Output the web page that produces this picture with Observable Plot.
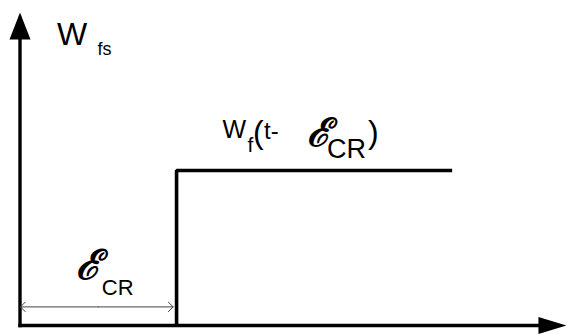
<!DOCTYPE html>
<html><head><meta charset="utf-8">
<script src="https://cdn.jsdelivr.net/npm/d3@7"></script>
<script src="https://cdn.jsdelivr.net/npm/@observablehq/plot@0.6"></script>
<style>html,body{margin:0;padding:0;background:#fff} svg{display:block}</style>
</head><body><div id="chart"></div>
<script>
// ---- data ----
const epsilonCR = 1;            // delay ε_CR (t units)
const stepLevel = 1;            // W_f level after the step
const stepT = [epsilonCR, epsilonCR, 2.76];
const stepW = [0, stepLevel, stepLevel];
const tAxis = [0, 3.49];        // t-axis extent (arrow tip)
const wAxis = [0, 2.02];        // W-axis extent (arrow tip)
const yLabel = ["W", "fs"];
const stepLabel = ["W", "f", "(", "t-", "ℰ", "CR", ")"];
const delayLabel = ["ℰ", "CR"];

// filled arrowheads (tip at the data point)
const upHead = {draw(c){ c.moveTo(0,0); c.lineTo(10.5,27); c.lineTo(-10.5,27); c.closePath(); }};
const rightHead = {draw(c){ c.moveTo(0,0); c.lineTo(-28,-8.5); c.lineTo(-28,8.5); c.closePath(); }};

const sans = "'Liberation Sans', Arial, Helvetica, sans-serif";
const script = "'DejaVu Serif', serif";

function labels(index, {x, y}) {
  const g = d3.create("svg:g").attr("text-anchor", "start");
  const put = (t, px, py, size, fam, extra = {}) => {
    const el = g.append("text").attr("x", px).attr("y", py).attr("text-anchor", "start")
      .attr("font-size", size).attr("font-family", fam).attr("fill", "black").text(t);
    for (const k in extra) el.attr(k, extra[k]);
  };
  const scr = {"font-style": "italic", "font-weight": "bold"};
  // W_fs next to the vertical axis
  const ax = x(0), ay = y(wAxis[1]);
  put(yLabel[0], ax + 37.5, ay + 33, 32, sans);
  put(yLabel[1], ax + 78, ay + 43, 18, sans);
  // W_f(t- ε_CR) above the step
  const sx = x(epsilonCR), sy = y(stepLevel);
  put(stepLabel[0], sx + 46.5, sy - 32, 25, sans);
  put(stepLabel[1], sx + 71.5, sy - 18, 21, sans);
  put(stepLabel[2], sx + 77, sy - 27, 32, sans);
  put(stepLabel[3], sx + 88, sy - 31, 24, sans);
  put(stepLabel[4], sx + 131, sy - 24, 39, script, scr);
  put(stepLabel[5], sx + 151, sy - 12, 27, sans);
  put(stepLabel[6], sx + 192, sy - 27, 32, sans);
  // ε_CR above the delay arrow
  const dx = x(epsilonCR / 2), dy = y(0.12);
  put(delayLabel[0], dx - 22, dy - 27, 41, script, scr);
  put(delayLabel[1], dx + 4, dy - 11, 22, sans);
  return g.node();
}

const axesLinks = [
  {x1: tAxis[0], y1: 0, x2: tAxis[1] - 0.1, y2: 0},
  {x1: 0, y1: wAxis[0], x2: 0, y2: wAxis[1] - 0.1}
];

const chart = Plot.plot({
  width: 569, height: 334, margin: 0,
  x: {domain: [0, 3.5], range: [19.5, 567.5], axis: null},
  y: {domain: [0, 2], range: [325, 15], axis: null},
  style: {background: "white"},
  marks: [
    Plot.link(axesLinks, {x1: "x1", y1: "y1", x2: "x2", y2: "y2", stroke: "black", strokeWidth: 3.4, strokeLinecap: "square"}),
    Plot.dot([{t: tAxis[1], w: 0}], {x: "t", y: "w", symbol: rightHead, r: 10, fill: "black", stroke: "none"}),
    Plot.dot([{t: 0, w: wAxis[1]}], {x: "t", y: "w", symbol: upHead, r: 10, fill: "black", stroke: "none"}),
    Plot.line(stepT, {x: stepT, y: stepW, stroke: "black", strokeWidth: 3.6, strokeLinejoin: "miter", strokeLinecap: "butt"}),
    Plot.arrow([{a: epsilonCR / 2, b: 0.003}, {a: epsilonCR / 2, b: epsilonCR - 0.022}], {x1: "a", x2: "b", y1: 0.12, y2: 0.12, stroke: "#444", strokeWidth: 1, headLength: 10, headAngle: 90}),
    labels
  ]
});
document.getElementById("chart").appendChild(chart);
</script>
</body></html>
